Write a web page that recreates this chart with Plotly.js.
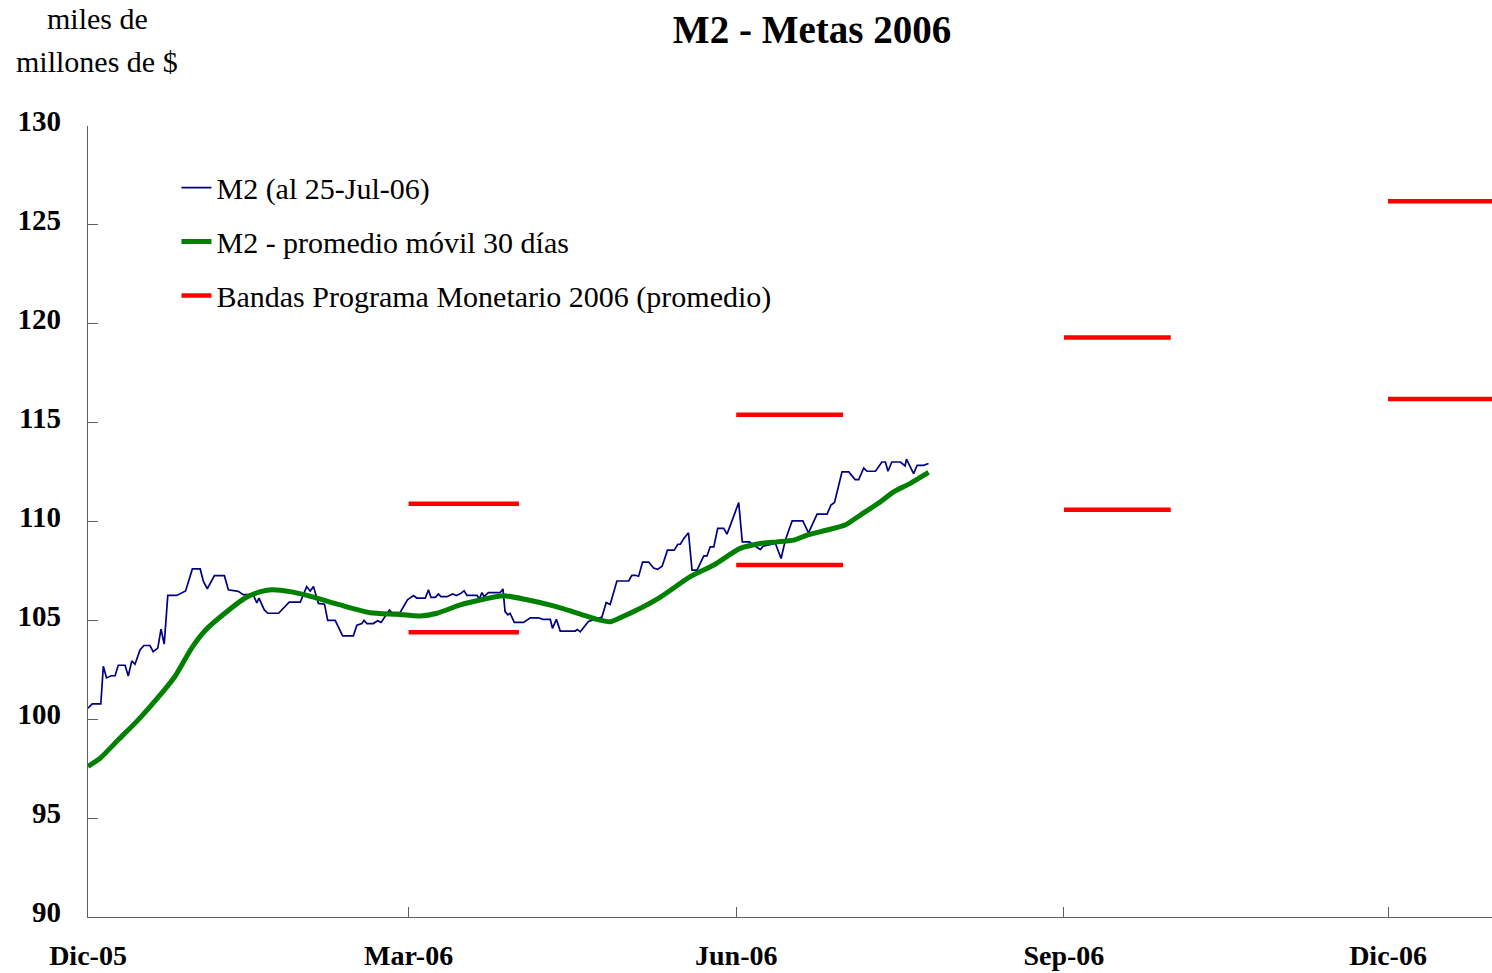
<!DOCTYPE html>
<html>
<head>
<meta charset="utf-8">
<script src="https://cdn.plot.ly/plotly-3.0.1.min.js"></script>
<style>html,body{margin:0;padding:0;background:#fff;}#chart{width:1492px;height:973px;}</style>
</head>
<body>
<div id="chart"></div>
<script>
// x values: days since 1-Dic-2005
const tickDays = [0, 90, 182, 274, 365];
const tickLabels = ["Dic-05", "Mar-06", "Jun-06", "Sep-06", "Dic-06"];
const yTicks = [90, 95, 100, 105, 110, 115, 120, 125, 130];

// M2 (al 25-Jul-06)
const m2Days = [0,1.2,3.6,4.3,5.2,6.5,7.6,8.5,10.4,11.3,12.3,13.2,14.6,15.7,17.4,18.3,19.6,20.5,21.4,22.4,24.9,27.4,29.3,31.5,32.4,33.5,35.5,38.3,39.4,42.2,43.6,46.4,47.4,48,49.5,50.5,53.5,56.5,59.6,61.4,62.4,63.3,64.7,66.4,67.3,69.4,
71.5,74.5,75.5,76.9,77.5,78.3,80.1,81.3,82.3,84.6,85.3,87.6,89.7,91.4,92.3,94.7,95.6,96.3,97.5,98.4,99.1,100.8,102.4,103.4,104.5,105.6,106.4,109.2,109.9,110.6,111.2,112.4,115.7,116.5,117.1,117.9,118.5,119.7,122.3,124.2,126.5,127.7,129.8,130.4,131.5,132.6,136.8,137.4,138.2,140.5,
144.3,145.5,146.6,148.5,151.8,152.7,153.7,154.6,155.7,157.4,158.8,159.9,161.2,162.7,164.6,165.6,166.3,167.3,168.6,169.6,171,172.9,173.8,174.7,175.7,176.8,178.5,179.4,180.3,182.7,183.7,185.7,186.9,188.8,189.5,193,194.6,195.8,197.7,200.7,202.3,204.7,207.5,208.6,209.6,211.7,213.6,215.4,216.4,217.8,218.7,221.1,222.9,223.9,224.6,225.7,228.1,229.4,229.8,231.8,232.8,234.6,236];
const m2Values = [100.56,100.78,100.78,102.68,102.09,102.2,102.2,102.73,102.73,102.19,102.95,102.78,103.5,103.73,103.73,103.42,103.6,104.56,103.8,106.26,106.26,106.49,107.6,107.6,106.97,106.6,107.26,107.26,106.55,106.47,106.3,106.3,105.88,106.13,105.53,105.36,105.36,105.92,105.92,106.71,106.48,106.71,105.86,105.82,105.0,105.0,
104.22,104.22,104.76,104.84,105.0,104.84,104.84,104.98,104.9,105.52,105.39,105.39,106.04,106.25,106.13,106.13,106.55,106.16,106.16,106.33,106.2,106.2,106.34,106.26,106.34,106.5,106.26,106.26,106.09,106.4,106.2,106.4,106.4,106.59,105.44,105.28,105.36,104.9,104.9,105.13,105.13,105.05,105.05,104.6,105.05,104.46,104.46,104.54,104.42,104.95,
105.17,105.9,105.8,106.99,106.99,107.28,107.28,107.23,107.95,107.95,107.65,107.58,107.74,108.55,108.55,108.85,108.85,109.14,109.43,107.54,107.54,108.26,108.26,108.72,108.72,109.65,109.65,109.36,109.78,110.96,108.97,108.97,108.8,108.58,108.75,108.89,108.13,109.06,110.03,110.03,109.43,110.37,110.37,110.83,110.96,112.51,112.51,112.12,112.12,112.71,112.54,112.54,113.01,113.01,112.54,113.01,113.01,112.81,113.15,112.42,112.84,112.84,112.93];

// M2 - promedio móvil 30 días
const maDays = [0,3.4,8.5,14.1,20.7,24.4,29.1,32.9,38.5,44.1,48.8,51.6,57.2,62.8,70.8,79.2,86.7,93.3,98,104.5,111,116.7,123.3,130.7,138.2,142.9,146.6,149.4,154.1,160.5,169.1,175.7,183.1,188.8,193.4,198.1,201.9,207.5,212.6,216.9,222.5,226.2,230.9,236];
const maValues = [97.61,98.03,98.96,99.97,101.32,102.16,103.6,104.49,105.37,106.13,106.47,106.55,106.44,106.2,105.78,105.39,105.31,105.22,105.36,105.78,106.07,106.25,106.04,105.73,105.32,105.05,104.93,105.13,105.52,106.15,107.21,107.8,108.64,108.89,108.97,109.06,109.31,109.57,109.82,110.33,111.0,111.5,111.93,112.48];

// Bandas Programa Monetario 2006 (promedio)
const bandStart = [90, 182, 274, 365];
const bandEnd = [121, 212, 304, 395];
const bandUpper = [110.9, 115.4, 119.3, 126.2];
const bandLower = [104.4, 107.8, 110.6, 116.2];

const bx = [], by = [];
for (let i = 0; i < bandStart.length; i++) {
  bx.push(bandStart[i], bandEnd[i], null, bandStart[i], bandEnd[i], null);
  by.push(bandUpper[i], bandUpper[i], null, bandLower[i], bandLower[i], null);
}

const serif = "'Liberation Serif', 'Times New Roman', serif";

const traces = [
  {x: m2Days, y: m2Values, type: 'scatter', mode: 'lines', name: 'M2 (al 25-Jul-06)',
   line: {color: '#000080', width: 1.7}, legendgroup: 'a'},
  {x: maDays, y: maValues, type: 'scatter', mode: 'lines', name: 'M2 - promedio móvil 30 días',
   line: {color: '#008000', width: 5, shape: 'spline', smoothing: 0.6}, legendgroup: 'b'},
  {x: bx, y: by, type: 'scatter', mode: 'lines', name: 'Bandas Programa Monetario 2006 (promedio)',
   line: {color: '#FF0000', width: 4.5}, connectgaps: false, legendgroup: 'c'}
];

const layout = {
  width: 1492, height: 973,
  margin: {l: 88, r: 0, t: 126, b: 56},
  paper_bgcolor: '#fff', plot_bgcolor: '#fff',
  font: {family: serif, color: '#000', size: 28},
  title: {text: '<b>M2 - Metas 2006</b>', font: {family: serif, size: 39, color: '#000'},
          x: 812/1492, xref: 'container', xanchor: 'center', y: 1 - 29/973, yref: 'container', yanchor: 'middle'},
  showlegend: true,
  legend: {x: 0.063, y: 0.955, xanchor: 'left', yanchor: 'top', bgcolor: 'rgba(0,0,0,0)',
           font: {family: serif, size: 30, color: '#000'}, traceorder: 'grouped', tracegroupgap: 12},
  xaxis: {range: [0, 394.2], tickvals: tickDays, ticktext: tickLabels, showgrid: false, zeroline: false,
          showline: true, linecolor: '#606060', linewidth: 1.3, ticks: 'inside', ticklen: 10, tickcolor: '#606060',
          tickfont: {family: serif, size: 28, color: '#000', weight: 'bold'}, ticklabelstandoff: 13},
  yaxis: {range: [90, 130], tickvals: yTicks, showgrid: false, zeroline: false,
          showline: true, linecolor: '#606060', linewidth: 1.3, ticks: 'inside', ticklen: 10, tickcolor: '#606060',
          tickfont: {family: serif, size: 29, color: '#000', weight: 'bold'}, ticklabelstandoff: 20, ticklabelshift: -5},
  annotations: [
    {text: 'miles de', xref: 'paper', yref: 'paper', x: (97-88)/1404, y: (917-19)/791, showarrow: false,
     xanchor: 'center', yanchor: 'middle', font: {family: serif, size: 30, color: '#000'}},
    {text: 'millones de $', xref: 'paper', yref: 'paper', x: (97-88)/1404, y: (917-62)/791, showarrow: false,
     xanchor: 'center', yanchor: 'middle', font: {family: serif, size: 30, color: '#000'}}
  ]
};

Plotly.newPlot('chart', traces, layout, {displayModeBar: false, staticPlot: true});
</script>
</body>
</html>
